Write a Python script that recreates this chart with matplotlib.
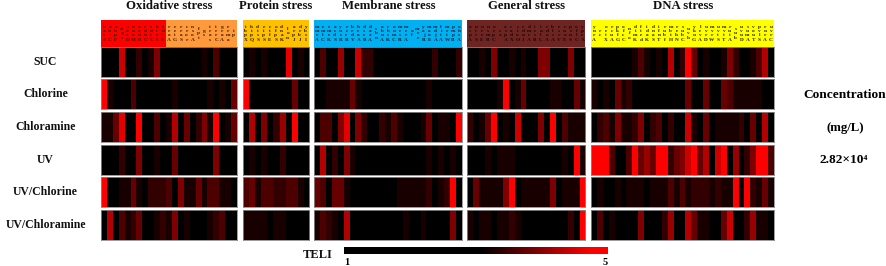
import numpy as np
import matplotlib
matplotlib.use("Agg")
import matplotlib.pyplot as plt
from matplotlib.colors import LinearSegmentedColormap, Normalize

W, H = 886, 266
plt.rcParams['font.family'] = ['Liberation Serif', 'DejaVu Serif']
plt.rcParams['font.weight'] = 'bold'

treatments = ["SUC", "Chlorine", "Chloramine", "UV", "UV/Chlorine", "UV/Chloramine"]
stress_names = ["Oxidative stress", "Protein stress", "Membrane stress", "General stress", "DNA stress"]

# Colour strength of each cell: 0 = black ... 10 = pure red
oxidative = [
    [0,0,0,8,0,0,2,0,1,5,0,0,0,0,0,0,0,1,0,3,0,0,0],
    [10,1,0,0,0,3,0,0,0,0,0,0,1,0,0,0,0,0,1,0,1,0,4],
    [1,1,4,9,0,0,10,0,0,3,0,1,7,0,4,0,2,5,1,10,0,1,4],
    [0,0,0,2,0,0,5,0,0,1,0,0,4,0,0,0,0,0,0,5,0,0,0],
    [10,0,0,1,1,4,1,0,2,2,2,3,0,5,1,1,4,1,3,3,1,1,0],
    [0,7,0,3,1,2,4,0,0,1,2,1,5,0,1,0,0,0,1,2,3,0,0],
]
protein = [
    [0,1,0,1,0,0,0,9,0,1,0],
    [10,0,0,0,0,0,0,0,4,0,0],
    [0,7,0,5,0,2,6,0,10,0,0],
    [0,1,0,1,0,0,2,0,0,0,0],
    [3,4,1,3,3,2,2,3,3,1,0],
    [1,1,1,1,0,1,1,0,0,0,0],
]
membrane = [
    [0,3,0,0,6,0,0,8,2,2,0,0,0,0,0,0,0,0,0,0,2,0,0,0,2],
    [0,0,1,1,1,1,4,1,0,0,0,0,0,0,0,0,0,0,0,1,0,0,0,0,0],
    [0,3,3,0,5,9,0,5,2,0,0,2,1,3,1,0,0,0,1,4,0,1,1,0,10],
    [0,7,0,2,0,5,1,0,0,0,0,0,0,0,0,0,0,0,0,1,0,1,0,1,0],
    [4,3,0,4,4,1,0,0,0,0,0,0,0,0,1,1,1,1,1,2,0,1,2,10,0],
    [1,3,2,1,0,7,0,0,0,0,0,0,0,0,0,1,0,0,1,0,0,0,0,5,0],
]
general = [
    [0,0,1,0,5,0,0,1,0,1,0,0,5,5,0,0,0,5,0,0],
    [0,0,0,0,0,1,10,0,1,4,0,0,0,0,1,1,0,0,4,1],
    [2,0,1,4,10,0,1,0,8,0,0,0,5,0,10,0,3,1,1,1],
    [0,0,0,1,0,1,1,1,0,0,0,0,0,0,0,0,1,0,10,1],
    [0,4,1,1,1,1,5,10,0,1,1,1,1,1,5,0,1,1,1,10],
    [1,0,1,1,0,1,1,2,1,0,0,0,0,0,0,0,0,2,0,10],
]
dna = [
    [0,0,0,0,0,0,0,1,3,1,0,1,0,7,0,2,10,4,0,1,0,0,1,5,2,0,0,1,3,7,0],
    [1,0,1,0,4,1,2,0,0,0,0,0,0,0,0,0,4,0,0,4,0,0,4,3,1,1,1,1,1,0,0],
    [0,2,3,1,5,1,1,2,5,0,2,3,0,2,0,0,8,1,0,4,0,1,1,1,1,2,0,4,0,7,0],
    [10,10,10,3,0,0,3,10,4,6,4,10,10,2,4,5,8,10,4,7,0,8,10,0,6,0,2,5,10,10,3],
    [0,1,0,0,1,0,1,1,1,0,1,1,1,3,1,3,1,2,2,2,1,2,1,1,10,0,10,2,1,4,1],
    [0,3,0,1,0,0,0,0,5,0,0,0,2,6,0,0,7,4,1,1,0,0,4,8,0,0,2,6,1,1,0],
]
panels = [oxidative, protein, membrane, general, dna]

# Tiny gene names above each column (as far as they can be made out)
genes_oxidative = ["kaeS","ahtC","ahpF","dgs","soxH","ouaM","oxdH","cdhU","sdtC","ktrA","edCE",
                   "rraA","eeiG","rraS","cror","nsoA","fpt","gs","tras","trrC","graA","erma","tp"]
genes_protein = ["ibpX","htpQ","dtsS","ripS","ctfE","ofpS","dnaK","lon","arpJ","drbJ","ybsI"]
genes_membrane = ["mmrA","emlC","smeK","acdS","yucR","rceB","brdV","heaA","dseB","daxA","sbn",
                  "abuA","cbsK","oumC","mesR","merA","of","mrr","yajR","maoE","mdjA","fitA",
                  "mrtW","pmpB","ohsA"]
genes_general = ["aspA","ntsS","uteE","nsmB","orpC","so","orpA","cadX","sioO","rdnJ","dmeA",
                 "iesB","tnlL","rdoA","hlsA","esrV","ruoE","prnS","oflC","ypeA"]
genes_dna = ["ynrA","rc","oetX","rcuA","pkfG","ofcC","nfo","dimK","fted","idaK","dnaS","ifnT",
             "rubf","mbtH","rehN","subC","uvh","ykuG","levA","uvrD","mvrW","uvtS","mvtT","rutA",
             "sub","uvuD","sumA","vouT","pvlS","rurA","uvrC"]
panel_genes = [genes_oxidative, genes_protein, genes_membrane, genes_general, genes_dna]

# Layout in reference pixels
panel_left = [101, 242.6, 314, 467.2, 591]
panel_right = [236.8, 308.8, 462, 585.3, 774]
row_top = [46.8, 79.3, 112, 144.7, 177.3, 209.8]
row_h = 30
head_top, head_bottom = 19.5, 46.8
title_centers = [169, 276, 388.5, 527, 683]
oxid_split = 11
head_colors = ["#FF9A3C", "#FFC000", "#00B0F0", "#6E2420", "#FFFF00"]
head_text = ["#3a1a00", "#2a1c00", "#00203a", "#1c0505", "#222200"]

cmap = LinearSegmentedColormap.from_list(
    "teli", [(0, "#000000"), (0.52, "#000000"), (0.94, "#FF0000"), (1, "#FF0000")])
norm = Normalize(1, 5)

def to_teli(levels):
    return 3.08 + 0.168 * np.asarray(levels, dtype=float)

fig = plt.figure(figsize=(W / 100, H / 100), dpi=100, facecolor="white")

def pix_ax(x0, y0, x1, y1):
    return fig.add_axes([x0 / W, 1 - y1 / H, (x1 - x0) / W, (y1 - y0) / H])

for p, data in enumerate(panels):
    x0, x1 = panel_left[p], panel_right[p]
    n = len(data[0])
    for r, row in enumerate(data):
        ax = pix_ax(x0, row_top[r], x1, row_top[r] + row_h)
        ax.imshow(to_teli(row)[None, :], cmap=cmap, norm=norm, aspect="auto", interpolation="nearest")
        ax.set_xticks([]); ax.set_yticks([])
        for s in ax.spines.values():
            s.set_color("#8a8a8a"); s.set_linewidth(0.6)
    # coloured header with the gene names
    hx = pix_ax(x0, head_top, x1, head_bottom)
    hx.set_xlim(0, n); hx.set_ylim(0, 1); hx.axis("off")
    hx.axvspan(0, n, color=head_colors[p], lw=0)
    if p == 0:
        hx.axvspan(0, oxid_split, color="#FF0000", lw=0)
    for i, g in enumerate(panel_genes[p]):
        hx.text(i + 0.5, 0.5, "\n".join(g), ha="center", va="center", fontsize=3.8,
                color=head_text[p], linespacing=1.12, weight="bold")
    fig.text(title_centers[p] / W, 1 - 6.2 / H, stress_names[p], ha="center", va="center",
             fontsize=9.2, weight="bold", color="#111111")

for r, name in enumerate(treatments):
    fig.text(45.5 / W, 1 - (row_top[r] + 15) / H, name, ha="center", va="center",
             fontsize=8.5, weight="bold", color="#111111")

fig.text(845 / W, 1 - 95 / H, "Concentration", ha="center", va="center", fontsize=9.6, weight="bold")
fig.text(845 / W, 1 - 128 / H, "(mg/L)", ha="center", va="center", fontsize=9.2, weight="bold")
fig.text(843.5 / W, 1 - 160 / H, "2.82×10⁴", ha="center", va="center", fontsize=9.6, weight="bold")

# Colour bar
teli_ticks = [1, 5]
cax = pix_ax(344, 246.7, 608, 254.3)
cax.imshow(np.linspace(1, 5, 264)[None, :], cmap=cmap, norm=norm, aspect="auto", extent=[1, 5, 0, 1])
cax.set_yticks([]); cax.set_xticks(teli_ticks); cax.set_xticklabels(["1", "5"], fontsize=7.5, weight="bold")
cax.tick_params(length=0, pad=2.5)
cax.get_xticklabels()[0].set_ha("left")
cax.get_xticklabels()[1].set_ha("right")
for s in cax.spines.values():
    s.set_visible(False)
fig.text(318 / W, 1 - 255 / H, "TELI", ha="center", va="center", fontsize=9, weight="bold", color="#111111")

fig.savefig("out.png", dpi=100, facecolor="white")
